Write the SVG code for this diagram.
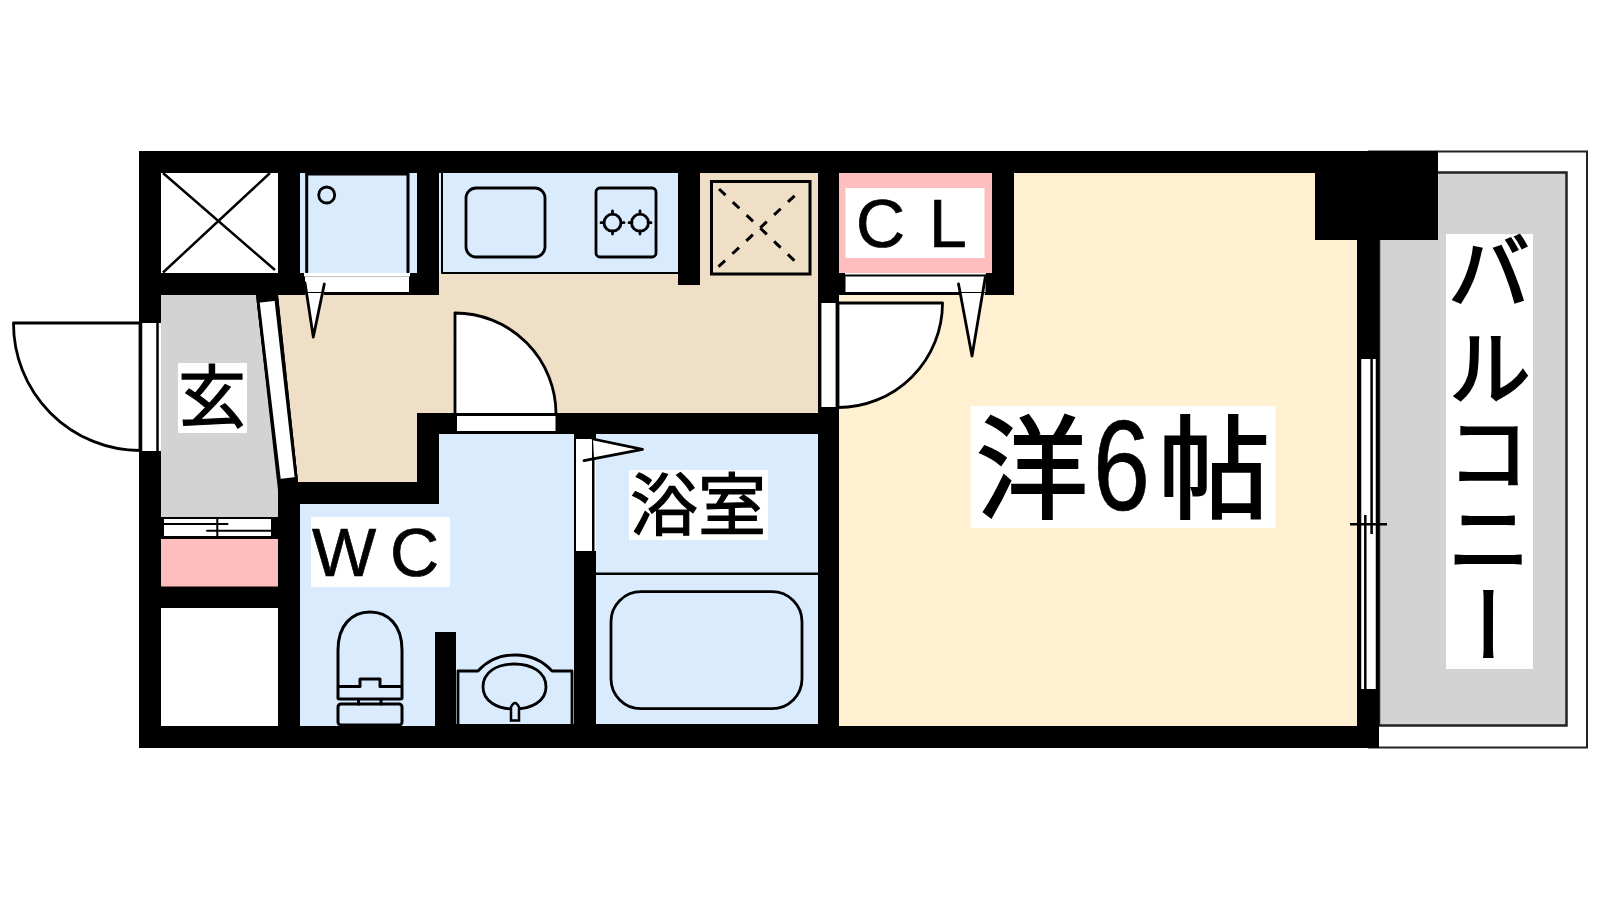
<svg xmlns="http://www.w3.org/2000/svg" width="1600" height="900" viewBox="0 0 1600 900">
<style>
text{font-family:"Noto Sans CJK JP","Liberation Sans",sans-serif;fill:#000;stroke:#000;stroke-width:1.2}
.lat{font-family:"Liberation Sans",Arial,sans-serif;stroke-width:.7}
.big{stroke-width:2.2}
.b{fill:#000}.w{fill:#fff}
.blue{fill:#daebfe}.beige{fill:#efdfc6}.yellow{fill:#fef0d0}.pink{fill:#ffbebe}.grey{fill:#d3d3d3}
.l{fill:none;stroke:#000;stroke-width:2.8;stroke-linejoin:round;stroke-linecap:round}
.lw{fill:#fff;stroke:#000;stroke-width:2.8;stroke-linejoin:round}
.t{stroke:#000;stroke-width:2.5;fill:none}
</style>
<rect width="1600" height="900" fill="#fff"/>
<g id="balcony">
<rect x="1369" y="151.500" width="218" height="596" fill="#fff" stroke="#222" stroke-width="2"/>
<rect x="1379" y="172.500" width="187.500" height="553" class="grey" stroke="#222" stroke-width="2.500"/>
</g>
<g id="walls"><rect x="139" y="151" width="1240" height="597" class="b"/>
<rect x="1315" y="151" width="123" height="89" class="b"/></g>
<g id="hall"><polygon class="beige" points="278,295 439,295 439,273 678,273 678,285 700,285 700,173 818,173 818,413 417,413 417,482 298,482"/></g>
<g id="room"><polygon class="yellow" points="1014,173 1315,173 1315,240 1357,240 1357,726 839,726 839,295 1014,295"/></g>
<g id="genkan">
<polygon class="grey" points="161,295 256,295 278,490 278,517 161,517"/>
<polygon class="b" points="256,295 278,295 298,482 278,482"/>
<polygon class="w" points="258.300,302.700 276,300.700 296,477 279.300,479"/>
<path class="l" d="M258.300 302.700 279.300 479M276 300.700 296 477"/>
</g>
<g id="entrance-door">
<rect x="141" y="323" width="20" height="128" class="w"/>
<path class="t" d="M141 323V451M157.500 323V451"/>
<path class="lw" d="M140 323H13.500A127 127 0 0 0 140 450.500Z"/>
</g>
<g id="shaft-1"><rect x="161" y="173" width="117" height="100" class="w"/>
<path class="t" d="M163 272.500 270 173M163 173 275 270"/></g>
<g id="fridge">
<rect x="300" y="173" width="117" height="100" class="blue"/>
<path class="l" d="M306.700 174V272M408 174V272" style="stroke-width:3"/><path class="l" d="M306.700 174H408"/>
<circle cx="326.700" cy="195" r="8" class="l"/>
<rect x="304" y="273" width="106" height="3.500" class="w"/>
<rect x="305" y="276.500" width="104" height="17" class="w"/>
<path class="l" d="M305 293H409" style="stroke-width:2"/>
<polygon points="305,293 324,293 313.300,337" class="w"/>
<path class="l" d="M305 283 313.300 337 324.300 284"/>
</g>
<g id="kitchen">
<rect x="439" y="173" width="239" height="100" class="blue"/>
<path class="l" d="M442 173V273H678" style="stroke-width:2"/>
<rect x="466" y="188" width="79" height="69" rx="10" class="l"/>
<rect x="596" y="188" width="60" height="69" rx="4" class="l"/>
<circle cx="612.500" cy="222.700" r="8.500" class="l"/><circle cx="640" cy="222.700" r="8.500" class="l"/>
<path class="l" d="M601 222.700h3M621 222.700h3M612.500 211v3M612.500 231v3M629 222.700h3M648 222.700h3M640 211v3M640 231v3"/>
</g>
<g id="shaft-2">
<rect x="711.500" y="181.500" width="98.500" height="92.500" fill="none" stroke="#000" stroke-width="3"/>
<path d="M718.500 266.700 799 191.700M719 189 799 265" fill="none" stroke="#000" stroke-width="3" stroke-dasharray="9 10"/>
</g>
<g id="closet">
<rect x="839" y="173" width="153" height="100" class="pink"/>
<rect x="845.500" y="188" width="139" height="70" class="w"/>
<text class="lat" x="856 929" y="247" font-size="68">CL</text>
<rect x="845" y="273" width="141" height="3" class="w"/>
<rect x="845.500" y="275.500" width="140" height="17" class="w"/>
<path class="l" d="M845.500 275.500H985.500M845.500 293H985.500" style="stroke-width:2"/>
<polygon class="w" points="961,293 985,293 972,355"/>
<path class="l" d="M958.500 284 972 356 985.500 276"/>
</g>
<g id="room-door">
<rect x="820" y="303" width="17" height="104" class="w"/>
<path class="l" d="M820 303V407M837 303V407"/>
<path class="lw" d="M838 303H942.500A104.500 104.500 0 0 1 838 407.500Z"/>
</g>
<g id="wc">
<polygon class="blue" points="300,504 439,504 439,434 574,434 574,724 456,724 456,632 435,632 435,726 300,726"/>
<rect x="311" y="517" width="139" height="70" class="w"/>
<text class="lat" x="312 390" y="576" font-size="68">WC</text>
<path class="l" style="stroke-width:3" d="M338 698V650C338 625 352 612 370 612C388 612 402 625 402 650V698Q402 699 400 699H340Q338 699 338 698ZM338 686.500H360V679H380V686.500H402M358.500 699V704M381 699V704"/>
<rect x="338" y="704" width="64" height="21" rx="3" class="l" style="stroke-width:3"/>
<path class="l" d="M458 724V671H478C488 660 500 655 515 655C530 655 542 660 552 671H572V724"/>
<path class="l" d="M483 687C483 672 497 664 514 664C532 664 546 672 546 687C546 701 532 709 514 709C497 709 483 701 483 687Z"/>
<path fill="#daebfe" stroke="#000" stroke-width="2.500" d="M511 720.500V707Q515 699 519 707V720.500Z"/>
</g>
<g id="wc-door">
<rect x="457" y="415" width="98.500" height="17" class="w"/>
<path class="l" d="M457 432H555.500" style="stroke-width:2"/>
<path class="lw" d="M455 414.500V313A101 101 0 0 1 556 414.500Z"/>
</g>
<g id="bath">
<rect x="596" y="434" width="222" height="290" class="blue"/>
<path d="M596 573.700H818" stroke="#000" stroke-width="2.500"/>
<rect x="611" y="591.700" width="191" height="117" rx="30" class="l"/>
<rect x="629" y="470" width="139" height="70" class="w"/>
<text x="698" y="530" font-size="68" text-anchor="middle">浴室</text>
</g>
<g id="bath-door">
<rect x="576" y="439" width="20" height="112" class="w"/>
<rect x="592" y="434" width="2.500" height="117" class="b"/>
<polygon class="w" points="593,439 642.500,449.300 594,459"/>
<path class="l" d="M593 439 642.500 449.300 584 460.700"/>
</g>
<g id="entry-closet">
<rect x="164" y="517.500" width="107" height="20" class="w"/>
<rect x="161" y="539" width="117" height="47.500" class="pink"/>
<rect x="161" y="608" width="117" height="118" class="w"/>
<path class="l" d="M164 518H271M164 524H227.500M207 530.700H271M164 537H271M217.300 518V537" style="stroke-width:2"/>
</g>
<g id="window">
<rect x="1359" y="359" width="19" height="330" class="w"/>
<path class="t" d="M1360 359V689M1377 359V689M1371.600 359V534M1365.300 515V689M1350 524.300H1387"/>
</g>
<g id="labels">
<rect x="178" y="363" width="69" height="70" class="w"/>
<text x="212" y="422" font-size="68" text-anchor="middle">玄</text>
<rect x="970.500" y="406" width="305" height="122" class="w"/>
<text class="big" font-size="112" x="976" y="510">洋</text>
<text class="lat" font-size="128" transform="translate(1093 510) scale(.8 1)">6</text>
<text class="big" font-size="112" x="1158" y="510">帖</text>
<rect x="1446" y="234" width="87" height="435" class="w"/>
<text class="big" x="1489" y="229 325 410 496 583" font-size="84" style="writing-mode:vertical-rl">バルコニー</text>
</g>
</svg>
